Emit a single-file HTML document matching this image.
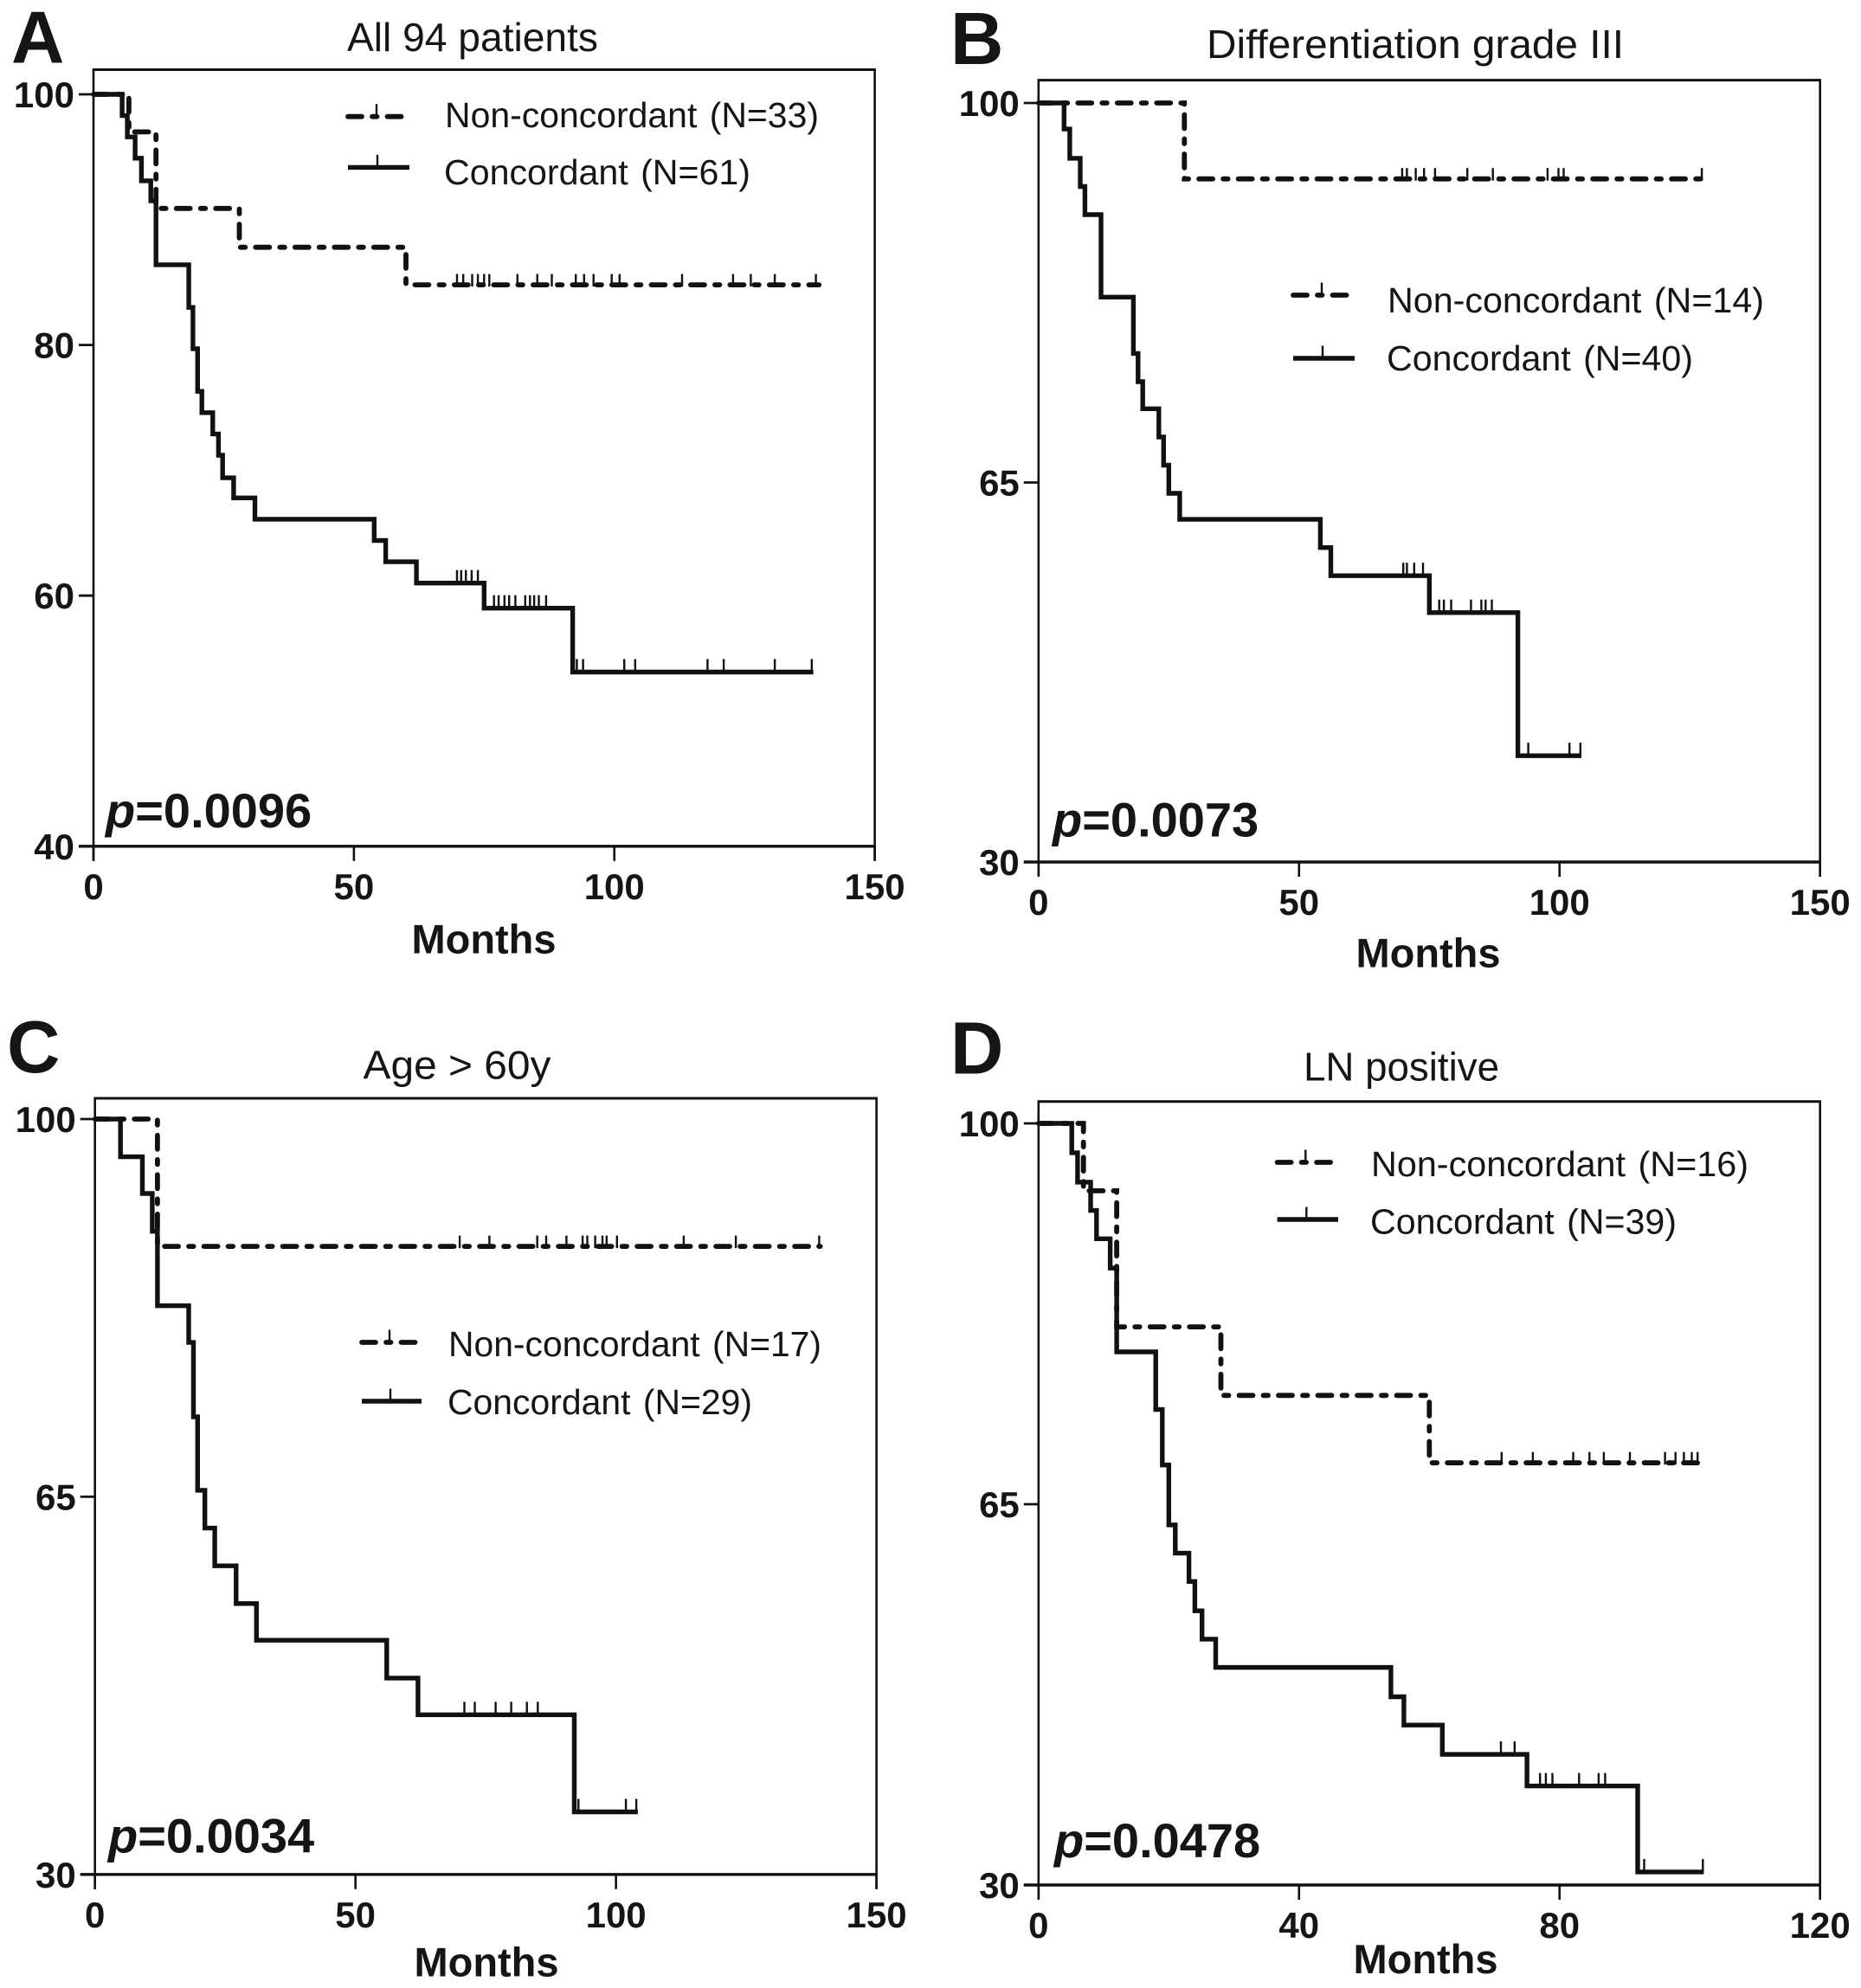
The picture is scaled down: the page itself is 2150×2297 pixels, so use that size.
<!DOCTYPE html>
<html lang="en">
<head>
<meta charset="utf-8">
<title>Kaplan-Meier survival curves</title>
<style>
html,body{margin:0;padding:0;background:#fff;}
svg{display:block;font-family:"Liberation Sans",Arial,sans-serif;fill:#151515;}
.letter{font-size:85px;font-weight:700;}
.title{font-size:46px;text-anchor:middle;}
.legend{font-size:41px;word-spacing:3px;}
.months{font-size:47px;font-weight:700;text-anchor:middle;}
.pval{font-size:56px;font-weight:700;}
.pval tspan{font-style:italic;}
.tick-label{font-size:42px;font-weight:700;}
.solid{fill:none;stroke:#111;stroke-width:5.4;}
.dash{fill:none;stroke:#111;stroke-width:5.8;stroke-linecap:round;stroke-dasharray:16 12 5.5 12;}
.cens{stroke:#111;stroke-width:2.4;}
.axis{stroke:#111;stroke-width:2;}
</style>
</head>
<body>
<svg id="figure" width="2150" height="2297" viewBox="0 0 2150 2297" xmlns="http://www.w3.org/2000/svg">
  <rect x="0" y="0" width="2150" height="2297" fill="#fff"/>

  <text class="letter" x="13" y="72.5">A</text>
  <text class="title" x="546" y="59" textLength="290" lengthAdjust="spacingAndGlyphs">All 94 patients</text>
  <text class="legend" x="514" y="147" textLength="432" lengthAdjust="spacingAndGlyphs">Non-concordant (N=33)</text>
  <text class="legend" x="513" y="213" textLength="354" lengthAdjust="spacingAndGlyphs">Concordant (N=61)</text>
  <text class="pval" x="122" y="956"><tspan>p</tspan>=0.0096</text>
  <text class="months" x="559" y="1101.5">Months</text>

  <text class="letter" x="1098" y="74">B</text>
  <text class="title" x="1635" y="67" textLength="482" lengthAdjust="spacingAndGlyphs">Differentiation grade III</text>
  <text class="legend" x="1603" y="361" textLength="435" lengthAdjust="spacingAndGlyphs">Non-concordant (N=14)</text>
  <text class="legend" x="1602" y="428" textLength="354" lengthAdjust="spacingAndGlyphs">Concordant (N=40)</text>
  <text class="pval" x="1216" y="966.5"><tspan>p</tspan>=0.0073</text>
  <text class="months" x="1650" y="1117.5">Months</text>

  <text class="letter" x="8" y="1239">C</text>
  <text class="title" x="528" y="1246.5" textLength="217" lengthAdjust="spacingAndGlyphs">Age &gt; 60y</text>
  <text class="legend" x="518" y="1567" textLength="431" lengthAdjust="spacingAndGlyphs">Non-concordant (N=17)</text>
  <text class="legend" x="517" y="1634" textLength="352" lengthAdjust="spacingAndGlyphs">Concordant (N=29)</text>
  <text class="pval" x="125" y="2140.5"><tspan>p</tspan>=0.0034</text>
  <text class="months" x="562" y="2283.5">Months</text>

  <text class="letter" x="1098" y="1240.5">D</text>
  <text class="title" x="1619" y="1248.5" textLength="226" lengthAdjust="spacingAndGlyphs">LN positive</text>
  <text class="legend" x="1584" y="1359" textLength="436" lengthAdjust="spacingAndGlyphs">Non-concordant (N=16)</text>
  <text class="legend" x="1583" y="1425.5" textLength="354" lengthAdjust="spacingAndGlyphs">Concordant (N=39)</text>
  <text class="pval" x="1218" y="2146"><tspan>p</tspan>=0.0478</text>
  <text class="months" x="1647" y="2280">Months</text>
</svg>

<script>
// ---------- Panel A data ----------
const aXTicks = [0, 50, 100, 150];
const aYTicks = [40, 60, 80, 100];
const aConcMonths = [5.5, 6.5, 8, 9.2, 11, 12, 18.3, 19.1, 20, 20.8, 22.9, 24, 24.8, 26.9, 31, 53.9, 56.1, 62, 75, 92];
const aConcSurvival = [98.3, 96.6, 94.9, 93.1, 91.5, 86.4, 83, 79.7, 76.3, 74.6, 72.9, 71.2, 69.4, 67.8, 66.1, 64.4, 62.7, 61, 59, 53.9];
const aConcEnd = 138.2;
const aConcCensored = [69.8, 70.6, 71.5, 72.6, 73.8, 76.9, 77.8, 78.9, 79.8, 81, 82.9, 83.8, 84.6, 85.5, 86.9, 92.8, 94, 101.9, 104, 117.9, 121, 130.8, 137.9];
const aNonMonths = [6.8, 12, 28, 60];
const aNonSurvival = [97, 90.9, 87.8, 84.8];
const aNonEnd = 139.3;
const aNonCensored = [69.8, 71, 72.7, 73.8, 75, 76, 81.4, 85.2, 88, 92.6, 94.2, 96, 99.5, 101, 113, 122.8, 126.2, 130.8, 138.7];

// ---------- Panel B data ----------
const bXTicks = [0, 50, 100, 150];
const bYTicks = [30, 65, 100];
const bConcMonths = [4.9, 6, 8, 8.9, 12, 18.2, 19.1, 20, 23.1, 24, 25, 27.1, 54.1, 56.1, 75, 92];
const bConcSurvival = [97.6, 94.9, 92.3, 89.7, 82.1, 76.9, 74.3, 71.8, 69.2, 66.6, 64, 61.6, 59, 56.4, 53, 39.8];
const bConcEnd = 104.2;
const bConcCensored = [70, 70.7, 72.1, 73.8, 76.9, 77.8, 79.2, 83, 85, 85.8, 87, 94, 101.9, 104];
const bNonMonths = [28];
const bNonSurvival = [93];
const bNonEnd = 127.3;
const bNonCensored = [69.8, 70.7, 72.4, 74, 76.1, 82.3, 87.2, 97.7, 99.8, 100.8, 127.3];

// ---------- Panel C data ----------
const cXTicks = [0, 50, 100, 150];
const cYTicks = [30, 65, 100];
const cConcMonths = [4.9, 9.1, 11, 12, 18, 18.9, 19.7, 21.1, 23, 27.1, 31, 56, 62, 92];
const cConcSurvival = [96.5, 93.1, 89.6, 82.7, 79.3, 72.4, 65.6, 62.1, 58.6, 55.1, 51.7, 48.2, 44.8, 35.8];
const cConcEnd = 104.2;
const cConcCensored = [70.9, 72.9, 76.9, 79.9, 82.9, 85, 92.8, 101.9, 103.9];
const cNonMonths = [12];
const cNonSurvival = [88.2];
const cNonEnd = 139.2;
const cNonCensored = [70, 75.7, 84.9, 86.6, 90.5, 93.6, 94.5, 96, 97.4, 98.2, 100.2, 113, 123, 139];

// ---------- Panel D data ----------
const dXTicks = [0, 40, 80, 120];
const dYTicks = [30, 65, 100];
const dConcMonths = [5.1, 6, 8, 8.9, 11, 12, 18, 19, 20, 21, 23.1, 24, 25.1, 27.2, 54.1, 56.1, 62, 75, 92];
const dConcSurvival = [97.3, 94.6, 92, 89.4, 86.7, 79, 73.7, 68.6, 63.1, 60.5, 57.9, 55.2, 52.6, 50, 47.3, 44.7, 42, 39.1, 31.2];
const dConcEnd = 102.1;
const dConcCensored = [71, 73.1, 77, 77.9, 78.9, 83, 86, 87, 93, 102];
const dNonMonths = [6.9, 12, 28, 60];
const dNonSurvival = [93.8, 81.3, 75, 68.8];
const dNonEnd = 101.2;
const dNonCensored = [71.1, 75.9, 82.1, 84.6, 86.8, 90.8, 96.2, 97.8, 99.1, 100.3, 101.2];

const SVG_NS = 'http://www.w3.org/2000/svg';
const figure = document.getElementById('figure');

function make(tag, cls) {
  const el = document.createElementNS(SVG_NS, tag);
  if (cls) el.setAttribute('class', cls);
  figure.appendChild(el);
  return el;
}

function drawLine(x1, y1, x2, y2, width, name) {
  const el = make('line', 'axis');
  el.setAttribute('x1', x1);
  el.setAttribute('y1', y1);
  el.setAttribute('x2', x2);
  el.setAttribute('y2', y2);
  el.style.strokeWidth = width;
  
  
  return el;
}

function survivalAt(months, survival, t) {
  let s = 100;
  for (let i = 0; i < months.length; i++) {
    if (t >= months[i]) s = survival[i];
  }
  return s;
}

function drawSeries(id, series, cls, sx, sy, months, survival, end, censored, markHeight) {
  let d = 'M' + sx(0) + ' ' + sy(100);
  for (let i = 0; i < months.length; i++) {
    d += 'H' + sx(months[i]).toFixed(1) + 'V' + sy(survival[i]).toFixed(1);
  }
  d += 'H' + sx(end).toFixed(1);
  const path = make('path', cls);
  path.setAttribute('d', d);
  
  

  censored.forEach(function (t) {
    const y = sy(survivalAt(months, survival, t));
    const mark = make('line', 'cens');
    mark.setAttribute('x1', sx(t).toFixed(1));
    mark.setAttribute('x2', sx(t).toFixed(1));
    mark.setAttribute('y1', (y + 2).toFixed(1));
    mark.setAttribute('y2', (y - markHeight).toFixed(1));
    
    
  });
}

function drawLegendKey(id, series, cls, x1, x2, y) {
  const key = make('path', cls);
  key.setAttribute('d', 'M' + (x1 + 3) + ' ' + y + 'H' + x2);
  
  
  const cx = (x1 + x2) / 2;
  const mark = make('line', 'cens');
  mark.setAttribute('x1', cx);
  mark.setAttribute('x2', cx);
  mark.setAttribute('y1', y);
  mark.setAttribute('y2', y - 14.5);
  
  
}

function drawPanel(p) {
  const xMax = p.xTicks[p.xTicks.length - 1];
  const yMin = p.yTicks[0];
  const sx = function (v) { return p.left + (v / xMax) * (p.right - p.left); };
  const sy = function (v) { return p.bottom - ((v - yMin) / (100 - yMin)) * (p.bottom - p.y100); };

  drawLine(p.left - 1.3, p.top, p.right + 1.3, p.top, 3, p.id + '-frame-top');
  drawLine(p.right, p.top, p.right, p.bottom + 17, 2.6, p.id + '-frame-right');
  drawLine(p.left, p.top, p.left, p.bottom + 17, 2.6, p.id + '-y-axis');
  drawLine(p.left - 17, p.bottom, p.right, p.bottom, 3.4, p.id + '-x-axis');

  p.yTicks.forEach(function (v) {
    drawLine(p.left - 17, sy(v), p.left, sy(v), 2.8, p.id + '-y-tick');
    const label = make('text', 'tick-label');
    label.setAttribute('x', p.left - 22);
    label.setAttribute('y', sy(v) + 15);
    label.setAttribute('text-anchor', 'end');
    label.textContent = v;
    
    
  });

  p.xTicks.forEach(function (v) {
    drawLine(sx(v), p.bottom, sx(v), p.bottom + 17, 2.6, p.id + '-x-tick');
    const label = make('text', 'tick-label');
    label.setAttribute('x', sx(v));
    label.setAttribute('y', p.bottom + 61);
    label.setAttribute('text-anchor', 'middle');
    label.textContent = v;
    
    
  });

  drawSeries(p.id, 'non-concordant', 'dash', sx, sy, p.nonMonths, p.nonSurvival, p.nonEnd, p.nonCensored, 12.5);
  drawSeries(p.id, 'concordant', 'solid', sx, sy, p.concMonths, p.concSurvival, p.concEnd, p.concCensored, 15);

  drawLegendKey(p.id, 'non-concordant', 'dash', p.keyX1, p.keyX2, p.keyY1);
  drawLegendKey(p.id, 'concordant', 'solid', p.keyX1 + 0, p.keyX2 + 2, p.keyY2);
}

drawPanel({id: 'panel-a', left: 108, right: 1010.6, top: 80.5, y100: 109, bottom: 977.8,
  keyX1: 399, keyX2: 471, keyY1: 134.7, keyY2: 193.4,
  xTicks: aXTicks, yTicks: aYTicks,
  concMonths: aConcMonths, concSurvival: aConcSurvival, concEnd: aConcEnd, concCensored: aConcCensored,
  nonMonths: aNonMonths, nonSurvival: aNonSurvival, nonEnd: aNonEnd, nonCensored: aNonCensored});

drawPanel({id: 'panel-b', left: 1199.8, right: 2102.7, top: 92.6, y100: 119, bottom: 996,
  keyX1: 1491, keyX2: 1563, keyY1: 341, keyY2: 414,
  xTicks: bXTicks, yTicks: bYTicks,
  concMonths: bConcMonths, concSurvival: bConcSurvival, concEnd: bConcEnd, concCensored: bConcCensored,
  nonMonths: bNonMonths, nonSurvival: bNonSurvival, nonEnd: bNonEnd, nonCensored: bNonCensored});

drawPanel({id: 'panel-c', left: 109.7, right: 1012.6, top: 1269, y100: 1293, bottom: 2165.8,
  keyX1: 415, keyX2: 485, keyY1: 1551, keyY2: 1619,
  xTicks: cXTicks, yTicks: cYTicks,
  concMonths: cConcMonths, concSurvival: cConcSurvival, concEnd: cConcEnd, concCensored: cConcCensored,
  nonMonths: cNonMonths, nonSurvival: cNonSurvival, nonEnd: cNonEnd, nonCensored: cNonCensored});

drawPanel({id: 'panel-d', left: 1199.8, right: 2102.7, top: 1272.8, y100: 1298, bottom: 2178,
  keyX1: 1472.6, keyX2: 1544, keyY1: 1343, keyY2: 1409,
  xTicks: dXTicks, yTicks: dYTicks,
  concMonths: dConcMonths, concSurvival: dConcSurvival, concEnd: dConcEnd, concCensored: dConcCensored,
  nonMonths: dNonMonths, nonSurvival: dNonSurvival, nonEnd: dNonEnd, nonCensored: dNonCensored});
</script>
</body>
</html>
